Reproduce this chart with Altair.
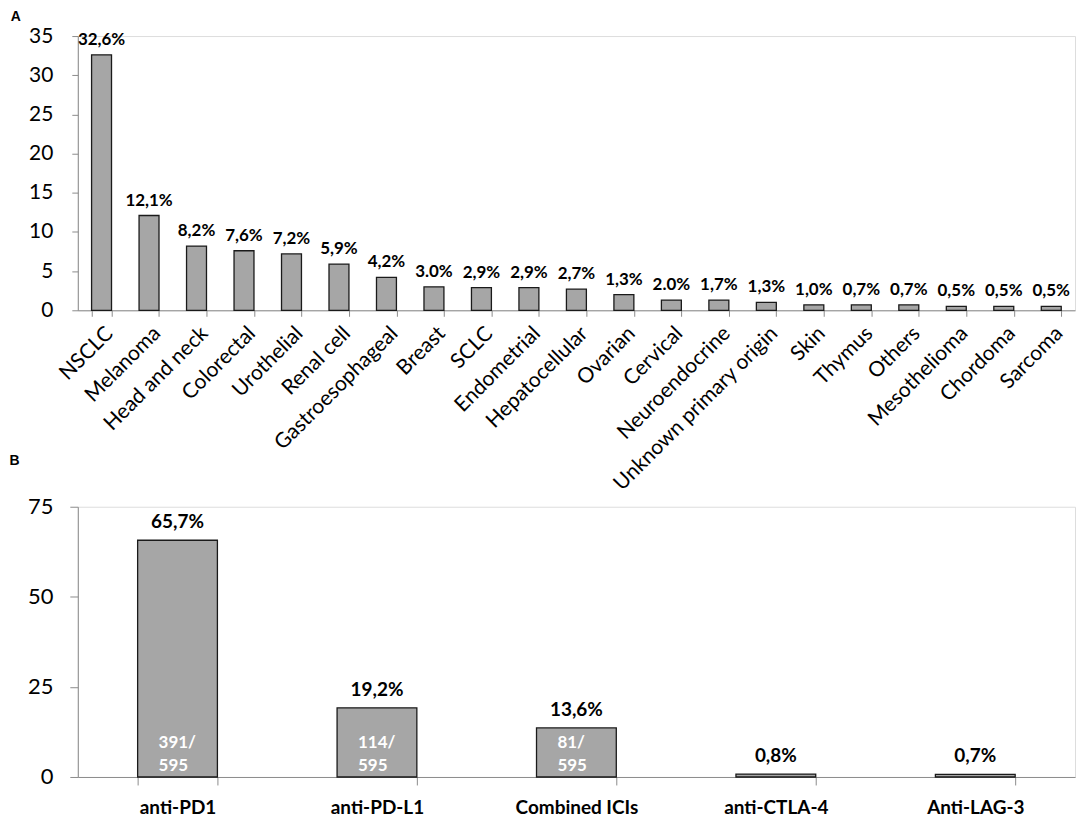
import altair as alt
import pandas as pd

# ---------------- data ----------------
cancer_types = ["NSCLC", "Melanoma", "Head and neck", "Colorectal", "Urothelial",
                "Renal cell", "Gastroesophageal", "Breast", "SCLC", "Endometrial",
                "Hepatocellular", "Ovarian", "Cervical", "Neuroendocrine",
                "Unknown primary origin", "Skin", "Thymus", "Others",
                "Mesothelioma", "Chordoma", "Sarcoma"]
cancer_values = [32.6, 12.1, 8.2, 7.6, 7.2, 5.9, 4.2, 3.0, 2.9, 2.9, 2.7,
                 2.0, 1.3, 1.3, 1.0, 0.7, 0.7, 0.7, 0.5, 0.5, 0.5]
cancer_labels = ["32,6%", "12,1%", "8,2%", "7,6%", "7,2%", "5,9%", "4,2%",
                 "3.0%", "2,9%", "2,9%", "2,7%", "1,3%", "2.0%", "1,7%",
                 "1,3%", "1,0%", "0,7%", "0,7%", "0,5%", "0,5%", "0,5%"]
a_ticks = [0, 5, 10, 15, 20, 25, 30, 35]

ici_types = ["anti-PD1", "anti-PD-L1", "Combined ICIs", "anti-CTLA-4", "Anti-LAG-3"]
ici_values = [65.7, 19.2, 13.6, 0.8, 0.7]
ici_labels = ["65,7%", "19,2%", "13,6%", "0,8%", "0,7%"]
ici_num = ["391/", "114/", "81/", "", ""]
ici_den = ["595", "595", "595", "", ""]
b_ticks = [0, 25, 50, 75]

dfA = pd.DataFrame({"type": cancer_types, "value": cancer_values, "label": cancer_labels})
dfB = pd.DataFrame({"type": ici_types, "value": ici_values, "label": ici_labels,
                    "num": ici_num, "den": ici_den, "zero": [0] * len(ici_types)})

FONT = "Lato"
AXIS_GRAY = "#8c8c8c"
BAR_FILL = "#a6a6a6"
BAR_STROKE = "#1a1a1a"

# ---------------- panel A ----------------
xA = alt.X("type:N", sort=cancer_types, title=None,
           scale=alt.Scale(paddingInner=0.58, paddingOuter=0.29),
           axis=alt.Axis(labelAngle=-45, labelFontSize=21, labelFont=FONT,
                         labelColor="#000000", tickBand="extent", tickSize=6,
                         tickColor=AXIS_GRAY, domainColor=AXIS_GRAY,
                         labelPadding=6, labelOverlap=False, labelLimit=0))
yA = alt.Y("value:Q", title=None,
           scale=alt.Scale(domain=[0, 35], nice=False, zero=True),
           axis=alt.Axis(values=a_ticks, tickCount=len(a_ticks), grid=False,
                         labelFontSize=21, labelFont=FONT, labelColor="#000000",
                         tickSize=6, tickColor=AXIS_GRAY, domainColor=AXIS_GRAY,
                         labelPadding=19, labelOverlap=False, labelFlush=False))

baseA = alt.Chart(dfA).encode(x=xA, y=yA)
barsA = baseA.mark_bar(fill=BAR_FILL, stroke=BAR_STROKE, strokeWidth=1.3)
textA = baseA.mark_text(font=FONT, fontSize=17, fontWeight="bold",
                        baseline="alphabetic", dy=-10, color="#000000").encode(text="label:N")

panelA = alt.layer(barsA, textA).properties(
    width=1000, height=275,
    title=alt.TitleParams(text="A", anchor="start", font="Liberation Sans",
                          fontSize=14, fontWeight="bold", color="#000000",
                          dx=-18, offset=1))

# ---------------- panel B ----------------
xB = alt.X("type:N", sort=ici_types, title=None,
           scale=alt.Scale(paddingInner=0.6, paddingOuter=0.3),
           axis=alt.Axis(labelAngle=0, labelFontSize=19, labelFont=FONT,
                         labelFontWeight="bold", labelColor="#000000",
                         tickBand="extent", tickSize=8, tickColor=AXIS_GRAY,
                         domainColor=AXIS_GRAY, labelPadding=14))
yB = alt.Y("value:Q", title=None,
           scale=alt.Scale(domain=[0, 75], nice=False),
           axis=alt.Axis(values=b_ticks, grid=False,
                         labelFontSize=22, labelFont=FONT, labelColor="#000000",
                         tickSize=8, tickColor=AXIS_GRAY, domainColor=AXIS_GRAY,
                         labelPadding=17, labelOverlap=False, labelFlush=False))

baseB = alt.Chart(dfB).encode(x=xB, y=yB)
barsB = baseB.mark_bar(fill=BAR_FILL, stroke=BAR_STROKE, strokeWidth=1.3)
textB = baseB.mark_text(font=FONT, fontSize=19, fontWeight="bold",
                        baseline="alphabetic", dy=-12, color="#000000").encode(text="label:N")
numB = alt.Chart(dfB).mark_text(font=FONT, fontSize=17, fontWeight="bold", align="left",
                                baseline="alphabetic", dx=-19, dy=-29,
                                color="#ffffff").encode(x=xB, y=alt.Y("zero:Q"), text="num:N")
denB = alt.Chart(dfB).mark_text(font=FONT, fontSize=17, fontWeight="bold", align="left",
                                baseline="alphabetic", dx=-19, dy=-6,
                                color="#ffffff").encode(x=xB, y=alt.Y("zero:Q"), text="den:N")

panelB = alt.layer(barsB, textB, numB, denB).properties(
    width=1000, height=271,
    title=alt.TitleParams(text="B", anchor="start", font="Liberation Sans",
                          fontSize=14, fontWeight="bold", color="#000000",
                          dx=-18, offset=28))

chart = alt.vconcat(panelA, panelB, spacing=-42).properties(
    padding={"left": 0, "top": 0, "right": 0, "bottom": 0}
).configure_view(stroke=None).configure(background="#ffffff")

chart.save("out.html", embed_options={"renderer": "svg", "actions": False})
